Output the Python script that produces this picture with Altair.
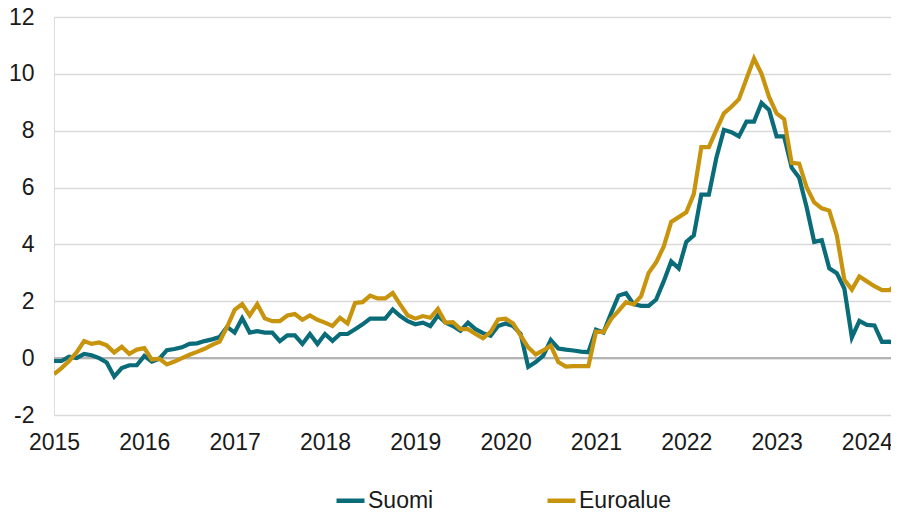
import json
import altair as alt
import pandas as pd

years = ["2015", "2016", "2017", "2018", "2019", "2020", "2021", "2022", "2023", "2024"]
series_names = ["Suomi", "Euroalue"]
series_colors = ["#0b6c79", "#c8940e"]

# Monthly values, Jan 2015 - May 2024
suomi = [
    -0.1, -0.1, 0.05, 0.0, 0.15, 0.1, 0.0, -0.15, -0.65, -0.35, -0.25, -0.25,
    0.08, -0.12, -0.02, 0.28, 0.32, 0.38, 0.5, 0.52, 0.6, 0.66, 0.74, 1.1,
    0.9, 1.4, 0.9, 0.95, 0.9, 0.9, 0.6, 0.8, 0.8, 0.5, 0.85, 0.5,
    0.85, 0.61, 0.85, 0.85, 1.02, 1.19, 1.39, 1.39, 1.39, 1.71, 1.48, 1.3,
    1.19, 1.25, 1.13, 1.5, 1.25, 1.13, 0.96, 1.25, 1.02, 0.88, 0.79, 1.13,
    1.22, 1.13, 0.85, -0.31, -0.14, 0.09, 0.64, 0.34, 0.3, 0.27, 0.23, 0.21,
    1.0, 0.9, 1.57, 2.2, 2.28, 1.9, 1.84, 1.84, 2.06, 2.7, 3.4, 3.16,
    4.09, 4.32, 5.75, 5.75, 7.05, 8.03, 7.95, 7.8, 8.32, 8.32, 8.98, 8.73,
    7.8, 7.8, 6.7, 6.35, 5.3, 4.09, 4.15, 3.16, 2.99, 2.45, 0.73, 1.31,
    1.17, 1.15, 0.57, 0.58, 0.5,
]
euroalue = [
    -0.56, -0.35, -0.1, 0.2, 0.6, 0.5, 0.55, 0.45, 0.2, 0.4, 0.15, 0.3,
    0.35, -0.05, -0.02, -0.22, -0.12, 0.0, 0.12, 0.22, 0.33, 0.47, 0.58, 1.1,
    1.7, 1.9, 1.5, 1.9, 1.4, 1.3, 1.3, 1.5, 1.55, 1.35, 1.5, 1.35,
    1.25, 1.13, 1.42, 1.22, 1.94, 1.97, 2.2, 2.1, 2.1, 2.29, 1.88, 1.5,
    1.39, 1.48, 1.42, 1.73, 1.25, 1.27, 1.02, 1.02, 0.85, 0.7, 0.92, 1.36,
    1.39, 1.22, 0.79, 0.38, 0.13, 0.27, 0.44, -0.14, -0.3, -0.28, -0.28, -0.28,
    0.93, 0.92, 1.37, 1.66, 1.97, 1.89, 2.18, 3.0, 3.37, 3.92, 4.79, 4.96,
    5.13, 5.77, 7.42, 7.42, 8.03, 8.61, 8.84, 9.11, 9.83, 10.54, 10.0, 9.19,
    8.61, 8.41, 6.87, 6.84, 6.0, 5.48, 5.27, 5.19, 4.32, 2.76, 2.41, 2.87,
    2.7, 2.53, 2.39, 2.39, 2.6,
]
y_ticks = [-2, 0, 2, 4, 6, 8, 10, 12]

rows = []
for name, vals in zip(series_names, [suomi, euroalue]):
    for i, v in enumerate(vals):
        rows.append({"m": i, "v": v, "sarja": name})
df = pd.DataFrame(rows)

FONT = "Liberation Sans"
label_expr = json.dumps(years) + "[round(datum.value / 12)]"

lines = alt.Chart(df).mark_line(strokeWidth=4.2, clip=True, strokeJoin="miter").encode(
    x=alt.X("m:Q",
            scale=alt.Scale(domain=[0, 111.2], nice=False, zero=False),
            axis=alt.Axis(values=[i * 12 for i in range(len(years))], labelExpr=label_expr,
                          title=None, grid=False, domain=False, ticks=False, tickSize=0,
                          labelFontSize=23, labelFont=FONT, labelColor="#1a1a1a",
                          labelPadding=16, labelFlush=False)),
    y=alt.Y("v:Q",
            scale=alt.Scale(domain=[-2, 12], nice=False),
            axis=alt.Axis(values=y_ticks, title=None, grid=True, gridColor="#d9d9d9",
                          gridWidth=1.6, domain=False, ticks=False, tickSize=0,
                          labelExpr="'' + datum.value",
                          labelFontSize=23, labelFont=FONT, labelColor="#1a1a1a",
                          labelPadding=20)),
    color=alt.Color("sarja:N",
                    scale=alt.Scale(domain=series_names, range=series_colors),
                    sort=series_names,
                    legend=alt.Legend(title=None, orient="none", direction="horizontal",
                                      legendX=280, legendY=467, symbolType="stroke",
                                      symbolSize=784, symbolStrokeWidth=4.5,
                                      labelFontSize=23, labelFont=FONT, labelColor="#1a1a1a",
                                      labelOffset=1, columnPadding=104, padding=0)),
)

zero_df = pd.DataFrame({"y0": [0]})
zero = alt.Chart(zero_df).mark_rule(color="#b3b3b3", strokeWidth=2.2).encode(y="y0:Q")

chart = alt.layer(zero, lines).properties(
    width=837, height=398,
    autosize=alt.AutoSizeParams(type="none"),
    padding={"left": 46, "top": 9, "right": 0, "bottom": 95},
).configure_view(stroke=None).configure(background="white")

chart.save("out.html", embed_options={"renderer": "svg", "actions": False})
